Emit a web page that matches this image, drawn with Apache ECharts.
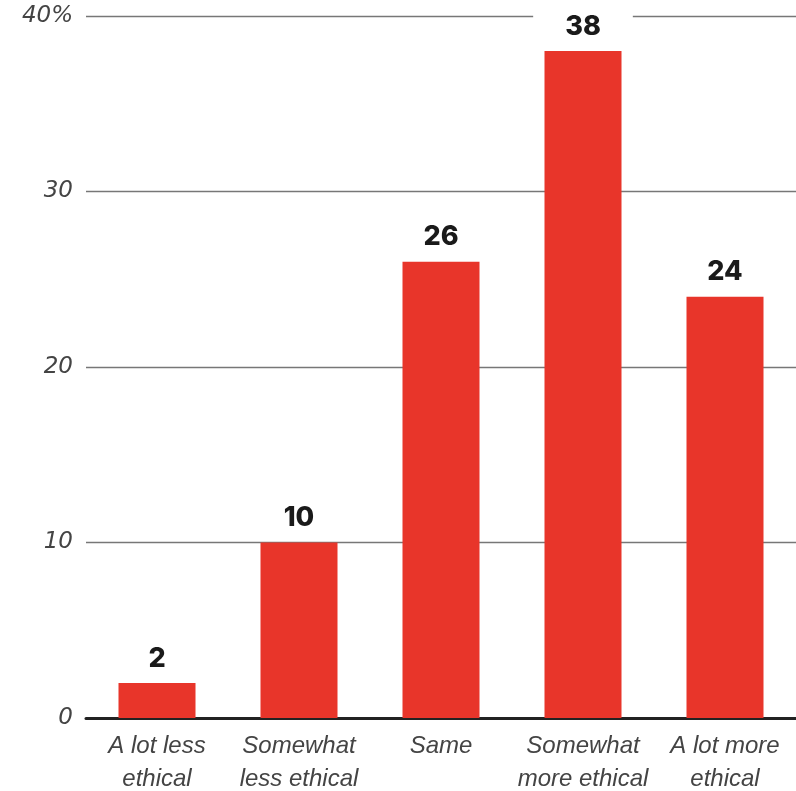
<!DOCTYPE html>
<html>
<head>
<meta charset="utf-8">
<script src="https://cdn.jsdelivr.net/npm/echarts@6/dist/echarts.min.js"></script>
<style>
html,body{margin:0;padding:0;background:#fff;overflow:hidden;}
#chart{width:796px;height:791px;}
</style>
</head>
<body>
<div id="chart"></div>
<script>
var categories = ['A lot less\nethical', 'Somewhat\nless ethical', 'Same', 'Somewhat\nmore ethical', 'A lot more\nethical'];
var values = [2, 10, 26, 38, 24];
var yTicks = [0, 10, 20, 30, 40];

var chart = echarts.init(document.getElementById('chart'));
chart.setOption({
  animation: false,
  backgroundColor: '#ffffff',
  grid: {left: 86, right: 0, top: 16, bottom: 73, containLabel: false, outerBoundsMode: 'none'},
  xAxis: {
    type: 'category',
    data: categories,
    axisLine: {show: true, lineStyle: {color: '#222222', width: 3}},
    axisTick: {show: false},
    axisLabel: {
      interval: 0,
      margin: 12,
      color: '#444444',
      fontFamily: 'Liberation Sans, Arial, sans-serif',
      fontStyle: 'italic',
      fontSize: 24,
      lineHeight: 33
    }
  },
  yAxis: {
    type: 'value',
    min: yTicks[0],
    max: yTicks[yTicks.length - 1],
    interval: 10,
    axisLine: {show: false},
    axisTick: {show: false},
    splitLine: {show: true, lineStyle: {color: '#777777', width: 1.3}},
    axisLabel: {
      margin: 13,
      color: '#444444',
      fontFamily: 'DejaVu Sans, sans-serif',
      fontStyle: 'italic',
      fontWeight: 200,
      fontSize: 23,
      padding: [4, 0, 0, 0],
      formatter: function (v) { return v === 40 ? '40%' : String(v); }
    }
  },
  series: [{
    type: 'bar',
    data: values,
    barWidth: 77,
    itemStyle: {color: '#e8352a'},
    label: {
      show: true,
      position: 'top',
      distance: 7,
      color: '#1a1a1a',
      fontFamily: 'Inter, Liberation Sans, sans-serif',
      fontWeight: 800,
      fontSize: 27,
      backgroundColor: '#ffffff',
      padding: [4, 32]
    }
  }]
});
</script>
</body>
</html>
